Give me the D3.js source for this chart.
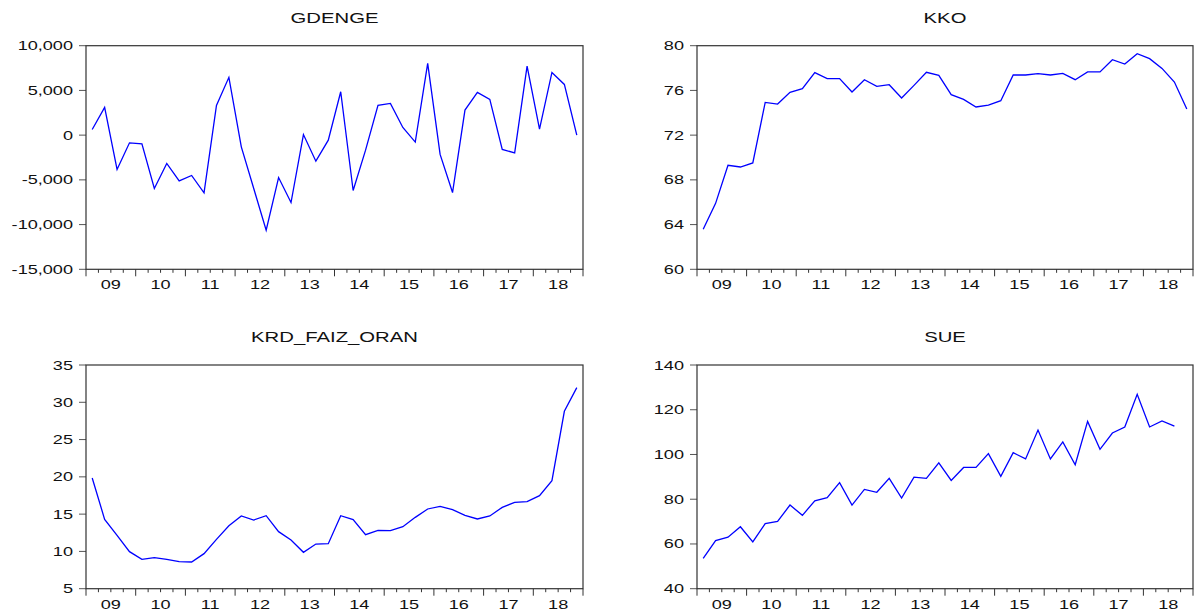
<!DOCTYPE html>
<html><head><meta charset="utf-8">
<script src="https://cdn.jsdelivr.net/npm/d3@7"></script>
<style>
body{margin:0;background:#fff}
svg{display:block}
text{font-family:"Liberation Sans",Arial,sans-serif;fill:#111}
</style>
</head><body>
<svg id="c" width="1196" height="612"></svg>
<script>
// quarterly observations 2009Q1 .. 2018Q4
const quarters = ["2009Q1","2009Q2","2009Q3","2009Q4","2010Q1","2010Q2","2010Q3","2010Q4",
"2011Q1","2011Q2","2011Q3","2011Q4","2012Q1","2012Q2","2012Q3","2012Q4",
"2013Q1","2013Q2","2013Q3","2013Q4","2014Q1","2014Q2","2014Q3","2014Q4",
"2015Q1","2015Q2","2015Q3","2015Q4","2016Q1","2016Q2","2016Q3","2016Q4",
"2017Q1","2017Q2","2017Q3","2017Q4","2018Q1","2018Q2","2018Q3","2018Q4"];

const gdenge = [630,3100,-3840,-860,-970,-5970,-3170,-5110,-4510,-6460,
3320,6460,-1310,-5970,-10630,-4740,-7540,70,-2910,-560,
4850,-6190,-1680,3320,3540,860,-780,8020,-2160,-6420,
2800,4780,3990,-1600,-1980,7720,670,7010,5670,0];

const kko = [63.58,65.90,69.30,69.15,69.51,74.93,74.78,75.83,76.16,77.59,
77.05,77.05,75.86,76.96,76.36,76.51,75.32,76.45,77.62,77.35,
75.62,75.20,74.52,74.69,75.08,77.38,77.38,77.50,77.38,77.53,
76.96,77.65,77.65,78.75,78.36,79.28,78.84,77.97,76.75,74.34];

const krdFaizOran = [19.85,14.30,12.16,9.97,8.94,9.16,8.94,8.62,8.58,9.70,
11.62,13.45,14.75,14.21,14.79,12.65,11.53,9.88,10.99,11.04,
14.79,14.26,12.25,12.83,12.78,13.32,14.57,15.69,16.05,15.60,
14.84,14.35,14.75,15.91,16.58,16.67,17.48,19.49,28.79,31.96];

const sue = [53.6,61.5,63.0,67.7,60.9,69.1,70.1,77.4,72.8,79.3,
80.7,87.4,77.4,84.4,83.1,89.3,80.5,89.9,89.3,96.3,
88.4,94.2,94.2,100.4,90.2,100.8,98.0,110.9,98.0,105.6,
95.4,114.8,102.3,109.6,112.3,126.9,112.3,115.0,112.7];

const years = [2009,2010,2011,2012,2013,2014,2015,2016,2017,2018];
const yearLabels = ["09","10","11","12","13","14","15","16","17","18"];

const gdengeTicks = [-15000,-10000,-5000,0,5000,10000];
const gdengeTickLabels = ["-15,000","-10,000","-5,000","0","5,000","10,000"];
const kkoTicks = [60,64,68,72,76,80];
const kkoTickLabels = ["60","64","68","72","76","80"];
const krdTicks = [5,10,15,20,25,30,35];
const krdTickLabels = ["5","10","15","20","25","30","35"];
const sueTicks = [40,60,80,100,120,140];
const sueTickLabels = ["40","60","80","100","120","140"];

const titles = ["GDENGE","KKO","KRD_FAIZ_ORAN","SUE"];

const SX = 1.45; // horizontal stretch of the glyphs in the original

const panels = [
  {title:titles[0], values:gdenge, ticks:gdengeTicks, labels:gdengeTickLabels, domain:[-15000,10000], x0:86, x1:583, y0:45.7, y1:269.3},
  {title:titles[1], values:kko, ticks:kkoTicks, labels:kkoTickLabels, domain:[60,80], x0:697, x1:1193, y0:45.7, y1:269.3},
  {title:titles[2], values:krdFaizOran, ticks:krdTicks, labels:krdTickLabels, domain:[5,35], x0:86, x1:583, y0:365, y1:588.7},
  {title:titles[3], values:sue, ticks:sueTicks, labels:sueTickLabels, domain:[40,140], x0:697, x1:1193, y0:365, y1:588.7}
];

const svg = d3.select("#c");

function qTime(q){ // "2009Q1" -> fractional year at centre of quarter
  const y = +q.slice(0,4), k = +q.slice(5);
  return y + (k - 0.5)/4;
}

panels.forEach(p => {
  const g = svg.append("g");
  const x = d3.scaleLinear().domain([2009,2019]).range([p.x0,p.x1]);
  const y = d3.scaleLinear().domain(p.domain).range([p.y1,p.y0]);

  // title
  g.append("text")
    .attr("transform",`translate(${(p.x0+p.x1)/2},${p.y0-23}) scale(${SX},1)`)
    .attr("text-anchor","middle")
    .style("font-size","14px")
    .text(p.title);

  // y ticks
  p.ticks.forEach((t,i) => {
    g.append("line").attr("x1",p.x0-7).attr("x2",p.x0).attr("y1",y(t)).attr("y2",y(t))
      .attr("stroke","#555").attr("stroke-width",1);
    g.append("text")
      .attr("transform",`translate(${p.x0-13},${y(t)+4.5}) scale(${SX},1)`)
      .attr("text-anchor","end")
      .style("font-size","12.5px")
      .text(p.labels[i]);
  });

  // x ticks: quarters minor, years major
  const qt = d3.range(0,41).map(k => 2009 + k/4);
  qt.forEach((t,k) => {
    const major = k % 4 === 0;
    g.append("line").attr("x1",x(t)).attr("x2",x(t)).attr("y1",p.y1).attr("y2",p.y1 + (major?7:3.5))
      .attr("stroke","#333").attr("stroke-width",1);
  });
  years.forEach((yr,i) => {
    g.append("text")
      .attr("transform",`translate(${x(yr+0.5)},${p.y1+20}) scale(${SX},1)`)
      .attr("text-anchor","middle")
      .style("font-size","12.5px")
      .text(yearLabels[i]);
  });

  // frame
  g.append("rect").attr("x",p.x0).attr("y",p.y0).attr("width",p.x1-p.x0).attr("height",p.y1-p.y0)
    .attr("fill","none").attr("stroke","#333").attr("stroke-width",1.2);

  // series
  const line = d3.line().x((d,i) => x(qTime(quarters[i]))).y(d => y(d));
  g.append("path").datum(p.values).attr("d",line)
    .attr("fill","none").attr("stroke","#0000ff").attr("stroke-width",1.3);
});
</script>
</body></html>
